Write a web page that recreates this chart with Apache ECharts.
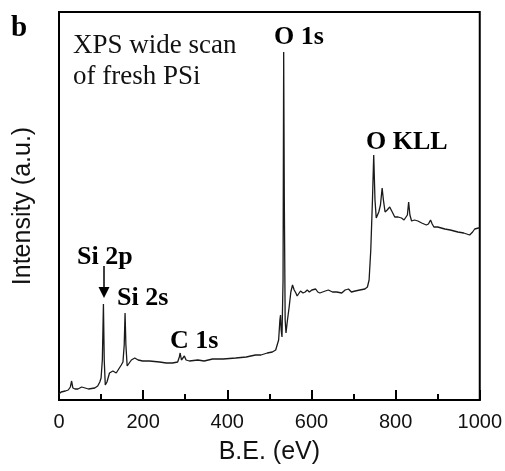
<!DOCTYPE html>
<html>
<head>
<meta charset="utf-8">
<script src="https://cdn.jsdelivr.net/npm/echarts@6/dist/echarts.min.js"></script>
<style>
  html, body { margin: 0; padding: 0; background: #fff; }
  #main { width: 505px; height: 471px; }
</style>
</head>
<body>
<div id="main"></div>
<script>
// binding energy (eV) and intensity (a.u.)
var bindingEnergy = [
  0, 5, 15, 22, 27, 30, 33, 38, 45, 54, 58, 70, 85, 92, 97, 100, 103, 105.6, 107.5, 110,
  114, 120, 128, 136, 142, 148, 152, 155, 157, 159, 162, 166, 172, 180, 188, 199, 215, 239, 255, 270,
  282, 286, 288, 291, 295, 298, 302, 310, 330, 345, 365, 390, 420, 445, 467, 480, 495, 507, 515, 518,
  522, 525, 526.5, 528, 530, 532.5, 534, 535.5, 537.5, 539.5, 543, 547, 551, 555, 559, 563, 566, 570, 574, 580,
  585, 590, 595, 601, 610, 615, 620, 633, 640, 650, 660, 672, 680, 688, 695, 704, 715, 727, 733, 737,
  741, 745, 748, 751, 754, 757, 760, 764, 768, 771, 775, 780, 786, 792, 798, 806, 814, 820, 824, 828,
  831, 834, 838, 845, 853, 862, 873, 878, 883, 887, 891, 900, 917, 930, 948, 962, 976, 983, 988, 997, 1000
];
var intensity = [
  6, 8, 9, 10, 13, 19, 12, 11, 11, 13, 11, 11, 12, 14, 18, 22, 40, 96, 40, 15,
  18, 27, 29, 27, 31, 35, 38, 55, 87, 55, 34, 35, 40, 42, 40, 39, 39, 38, 37, 37,
  38, 43, 47, 40, 40, 44, 40, 39, 40, 39, 41, 41, 42, 43, 45, 45, 47, 48, 50, 52,
  60, 80, 85, 70, 63, 120, 348, 200, 80, 67, 80, 93, 108, 115, 110, 107, 104, 106, 109, 107,
  108, 110, 108, 110, 111, 108, 107, 109, 110, 108, 108, 107, 110, 111, 108, 109, 110, 111, 113, 120,
  150, 200, 245, 200, 182, 185, 188, 195, 212, 200, 188, 190, 193, 188, 183, 183, 182, 180, 178, 185,
  198, 185, 179, 180, 179, 177, 175, 176, 180, 176, 173, 173, 171, 170, 168, 167, 165, 168, 171, 172, 172
];
var xTicks = [0, 200, 400, 600, 800, 1000];

var peakLabels = [
  { text: "O 1s", x: 274, y: 37 },
  { text: "O KLL", x: 366, y: 142 },
  { text: "Si 2p", x: 77, y: 257 },
  { text: "Si 2s", x: 117, y: 298 },
  { text: "C 1s", x: 170, y: 341 }
];

var spectrum = bindingEnergy.map(function (e, i) { return [e, intensity[i]]; });

var chart = echarts.init(document.getElementById("main"));

var graphics = [
  { type: "text", x: 11, y: 29, style: { text: "b", font: "bold 29px 'Liberation Serif'", fill: "#000", textVerticalAlign: "middle" } },
  { type: "text", x: 73, y: 46, style: { text: "XPS wide scan", font: "27px 'Liberation Serif'", fill: "#111", textVerticalAlign: "middle" } },
  { type: "text", x: 73, y: 77, style: { text: "of fresh PSi", font: "27px 'Liberation Serif'", fill: "#111", textVerticalAlign: "middle" } },
  // arrow pointing at Si 2p
  { type: "line", shape: { x1: 104, y1: 266, x2: 104, y2: 289 }, style: { stroke: "#000", lineWidth: 1.5 } },
  { type: "polygon", shape: { points: [[98.5, 287], [109.5, 287], [104, 298]] }, style: { fill: "#000" } }
];
peakLabels.forEach(function (p) {
  graphics.push({
    type: "text", x: p.x, y: p.y,
    style: { text: p.text, font: "bold 26px 'Liberation Serif'", fill: "#000", textVerticalAlign: "middle" }
  });
});

chart.setOption({
  animation: false,
  grid: {
    left: 59, right: 23, top: 12, bottom: 71,
    show: true, borderColor: "#000", borderWidth: 2
  },
  xAxis: {
    type: "value",
    min: 0,
    max: 1000,
    interval: 200,
    name: "B.E. (eV)",
    nameLocation: "middle",
    nameGap: 40,
    nameTextStyle: { fontFamily: "Liberation Sans", fontSize: 25, color: "#111" },
    axisLine: { lineStyle: { color: "#000", width: 2 } },
    axisTick: { inside: true, length: 10, lineStyle: { color: "#000", width: 2 } },
    minorTick: { show: true, splitNumber: 2, length: 6, lineStyle: { color: "#000", width: 2 } },
    axisLabel: {
      margin: 12, fontFamily: "Liberation Sans", fontSize: 20, color: "#111",
      formatter: function (v) { return xTicks.indexOf(v) >= 0 ? String(v) : ""; }
    },
    splitLine: { show: false }
  },
  yAxis: {
    type: "value",
    min: 0,
    max: 388,
    name: "Intensity (a.u.)",
    nameLocation: "middle",
    nameGap: 23,
    nameTextStyle: { fontFamily: "Liberation Sans", fontSize: 25, color: "#111" },
    axisLine: { show: true, lineStyle: { color: "#000", width: 2 } },
    axisTick: { show: false },
    axisLabel: { show: false },
    splitLine: { show: false }
  },
  series: [{
    type: "line",
    data: spectrum,
    symbol: "none",
    lineStyle: { color: "#1a1a1a", width: 1.3 }
  }],
  graphic: graphics
});
</script>
</body>
</html>
